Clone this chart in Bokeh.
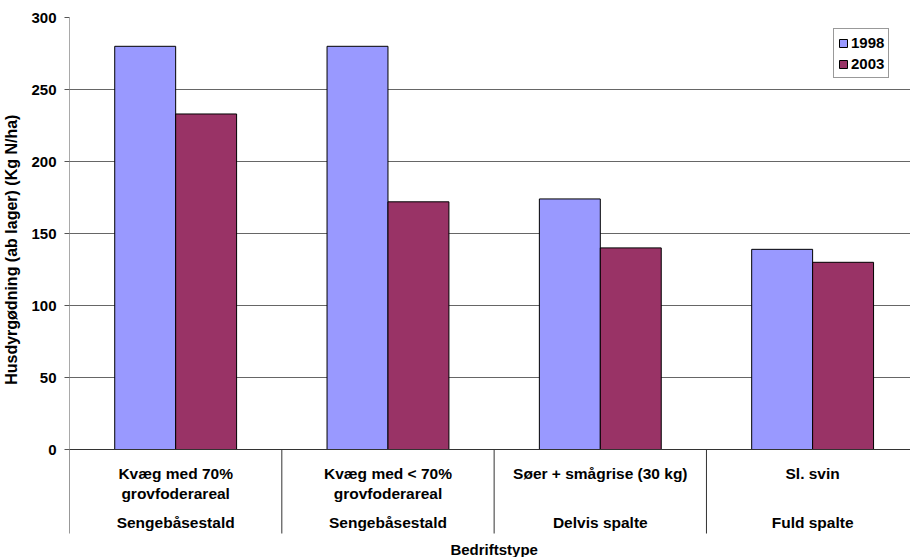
from bokeh.plotting import figure
from bokeh.models import Range1d, FixedTicker, ColumnDataSource, Legend, LegendItem
from bokeh.core.properties import value
from bokeh.transform import dodge
from bokeh.embed import file_html
from bokeh.resources import INLINE

# ---- data ----
cat_line1 = ["Kvæg med 70%", "Kvæg med < 70%", "Søer + smågrise (30 kg)", "Sl. svin"]
cat_line2 = ["grovfoderareal", "grovfoderareal", "", ""]
cat_group = ["Sengebåsestald", "Sengebåsestald", "Delvis spalte", "Fuld spalte"]
series_names = ["1998", "2003"]
v1998 = [280, 280, 174, 139]
v2003 = [233, 172, 140, 130]
y_ticks = [0, 50, 100, 150, 200, 250, 300]
y_title = "Husdyrgødning (ab lager) (Kg N/ha)"
x_title = "Bedriftstype"

FONT = "Liberation Sans"
C1998 = "#9999FF"
C2003 = "#993366"
DARK = "#333333"

n = len(cat_line1)
xc = [i + 0.5 for i in range(n)]
bounds = list(range(n + 1))
src = ColumnDataSource(dict(x=xc, v1998=v1998, v2003=v2003))

# the frame is extended below zero so the category block can be drawn in data space
Y_MIN = -75
p = figure(width=910, height=557, x_range=Range1d(0, 3.961), y_range=Range1d(Y_MIN, 300),
           output_backend="svg", toolbar_location=None, x_axis_location=None,
           min_border_left=69, min_border_right=0, min_border_top=17, min_border_bottom=0)
p.outline_line_color = None
p.background_fill_color = "white"
p.border_fill_color = "white"

# gridlines
p.ygrid.grid_line_color = "#666666"
p.ygrid.grid_line_width = 1
p.ygrid.ticker = FixedTicker(ticks=y_ticks)
for g in p.xgrid:
    g.visible = False

bw = 0.287
r1 = p.vbar(x=dodge("x", -bw / 2, range=p.x_range), top="v1998", width=bw, source=src,
            fill_color=C1998, line_color="black", line_width=1)
r2 = p.vbar(x=dodge("x", bw / 2, range=p.x_range), top="v2003", width=bw, source=src,
            fill_color=C2003, line_color="black", line_width=1)

# axis lines and category separators (84 px below the value axis: 84/1.44 units)
SEP = -84 / 1.44
p.segment(x0=[0], y0=[0], x1=[p.x_range.end], y1=[0], line_color=DARK, line_width=1)
p.segment(x0=[0], y0=[0], x1=[0], y1=[300], line_color="#555555", line_width=1)
p.segment(x0=bounds, y0=[0] * len(bounds), x1=bounds, y1=[SEP] * len(bounds),
          line_color=DARK, line_width=1)

# category labels (1.44 px per y unit)
def add_text(xs, ys, texts, size="15.5px"):
    p.text(x=xs, y=ys, text=texts, text_font=value(FONT), text_font_style="bold",
           text_font_size=size, text_align="center", text_baseline="alphabetic",
           text_color="black")

add_text(xc, [-16.8] * n, cat_line1)
add_text([x for x, t in zip(xc, cat_line2) if t], [-30.5] * sum(1 for t in cat_line2 if t),
         [t for t in cat_line2 if t])
add_text(xc, [-50.7] * n, cat_group)
add_text([n / 2], [-69.6], [x_title], size="15px")

# y axis
ya = p.yaxis[0]
ya.ticker = FixedTicker(ticks=y_ticks)
ya.minor_tick_line_color = None
ya.major_tick_in = 0
ya.major_tick_out = 5
ya.major_label_standoff = 8
ya.axis_line_color = None
ya.major_tick_line_color = "#555555"
ya.major_label_text_font = FONT
ya.major_label_text_font_style = "bold"
ya.major_label_text_font_size = "15px"
ya.major_label_text_color = "black"
ya.axis_label = "\u00a0" * 17 + y_title
ya.axis_label_text_font = FONT
ya.axis_label_text_font_style = "bold"
ya.axis_label_text_font_size = "16px"
ya.axis_label_text_color = "black"
ya.axis_label_standoff = 8

# legend
legend = Legend(items=[LegendItem(label=series_names[0], renderers=[r1]),
                       LegendItem(label=series_names[1], renderers=[r2])],
                location=(764, 479))
legend.label_text_font = FONT
legend.label_text_font_style = "bold"
legend.label_text_font_size = "15px"
legend.label_text_color = "black"
legend.glyph_width = 10
legend.glyph_height = 10
legend.label_standoff = 3
legend.padding = 4
legend.spacing = 2
legend.label_height = 19
legend.margin = 0
legend.border_line_color = DARK
legend.border_line_width = 1
legend.background_fill_alpha = 1
p.add_layout(legend)

open("out.html", "w").write(file_html(p, INLINE))
